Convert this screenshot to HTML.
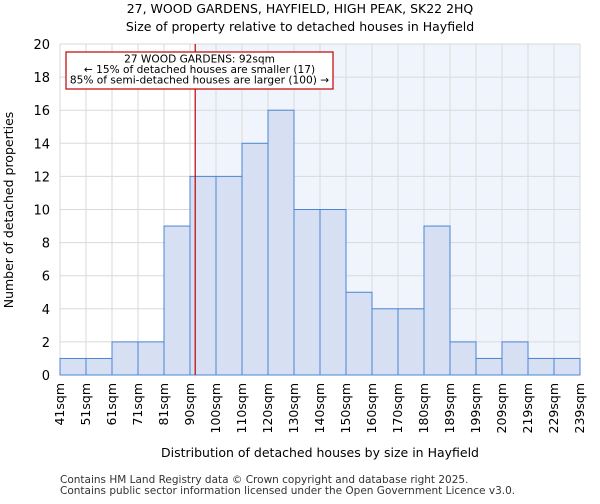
<!DOCTYPE html>
<html><head><meta charset="utf-8"><style>
body{margin:0;background:#fff;font-family:"DejaVu Sans","Liberation Sans",sans-serif}
</style></head><body>
<svg id="chart" width="600" height="500" xmlns="http://www.w3.org/2000/svg" font-family="DejaVu Sans, Liberation Sans, sans-serif">
<text x="300" y="13" text-anchor="middle" font-size="12.5">27, WOOD GARDENS, HAYFIELD, HIGH PEAK, SK22 2HQ</text>
<text x="300" y="31" text-anchor="middle" font-size="12.5">Size of property relative to detached houses in Hayfield</text>
<g id="plot"></g>
<text x="320" y="457" text-anchor="middle" font-size="12.5">Distribution of detached houses by size in Hayfield</text>
<text x="13" y="210" text-anchor="middle" font-size="12.5" transform="rotate(-90 13 210)">Number of detached properties</text>
<text x="60" y="483" font-size="10.5" fill="#333">Contains HM Land Registry data © Crown copyright and database right 2025.</text>
<text x="60" y="494" font-size="10.5" fill="#333">Contains public sector information licensed under the Open Government Licence v3.0.</text>
</svg>
<script>
const categories=["41sqm","51sqm","61sqm","71sqm","81sqm","90sqm","100sqm","110sqm","120sqm","130sqm","140sqm","150sqm","160sqm","170sqm","180sqm","189sqm","199sqm","209sqm","219sqm","229sqm","239sqm"];
const counts=[1,1,2,2,9,12,12,14,16,10,10,5,4,4,9,2,1,2,1,1];
const yTicks=[0,2,4,6,8,10,12,14,16,18,20];
const markerBin=5.2;
const NS="http://www.w3.org/2000/svg";
const L=60,R=580,T=44,B=375,yMax=20;
const bw=(R-L)/counts.length;
const xs=i=>L+i*bw;
const ys=v=>B-(B-T)*v/yMax;
const g=document.getElementById('plot');
function mk(t,a){const e=document.createElementNS(NS,t);for(const k in a)e.setAttribute(k,a[k]);g.appendChild(e);return e;}
const mx=xs(markerBin);
let e=mk('rect',{x:mx,y:T,width:R-mx,height:B-T,fill:'#f0f4fc'});


for(let i=0;i<=counts.length;i++){e=mk('line',{x1:xs(i),x2:xs(i),y1:T,y2:B,stroke:'#dadada'});

}
yTicks.forEach(t=>{e=mk('line',{x1:L,x2:R,y1:ys(t),y2:ys(t),stroke:'#dadada'});


e=mk('text',{x:L-10,y:ys(t)+5,'text-anchor':'end','font-size':13});e.textContent=t;

});
counts.forEach((v,i)=>{e=mk('rect',{x:xs(i),y:ys(v),width:bw,height:B-ys(v),fill:'#d6e0f2',stroke:'#4a86d4','stroke-width':1});

});
categories.forEach((c,i)=>{const x=xs(i)+4;e=mk('text',{x:x,y:B+8,'text-anchor':'end','font-size':12.5,transform:`rotate(-90 ${x} ${B+8})`});e.textContent=c;

});
e=mk('line',{x1:mx,x2:mx,y1:T,y2:B,stroke:'#c00000','stroke-width':1.2});


e=mk('rect',{x:66,y:52,width:267,height:37,fill:'#fff',stroke:'#c00000','stroke-width':1.2});


["27 WOOD GARDENS: 92sqm","← 15% of detached houses are smaller (17)","85% of semi-detached houses are larger (100) →"].forEach((s,i)=>{e=mk('text',{x:199.5,y:62.5+i*10.5,'text-anchor':'middle','font-size':10.6});e.textContent=s;

});
</script>
</body></html>
